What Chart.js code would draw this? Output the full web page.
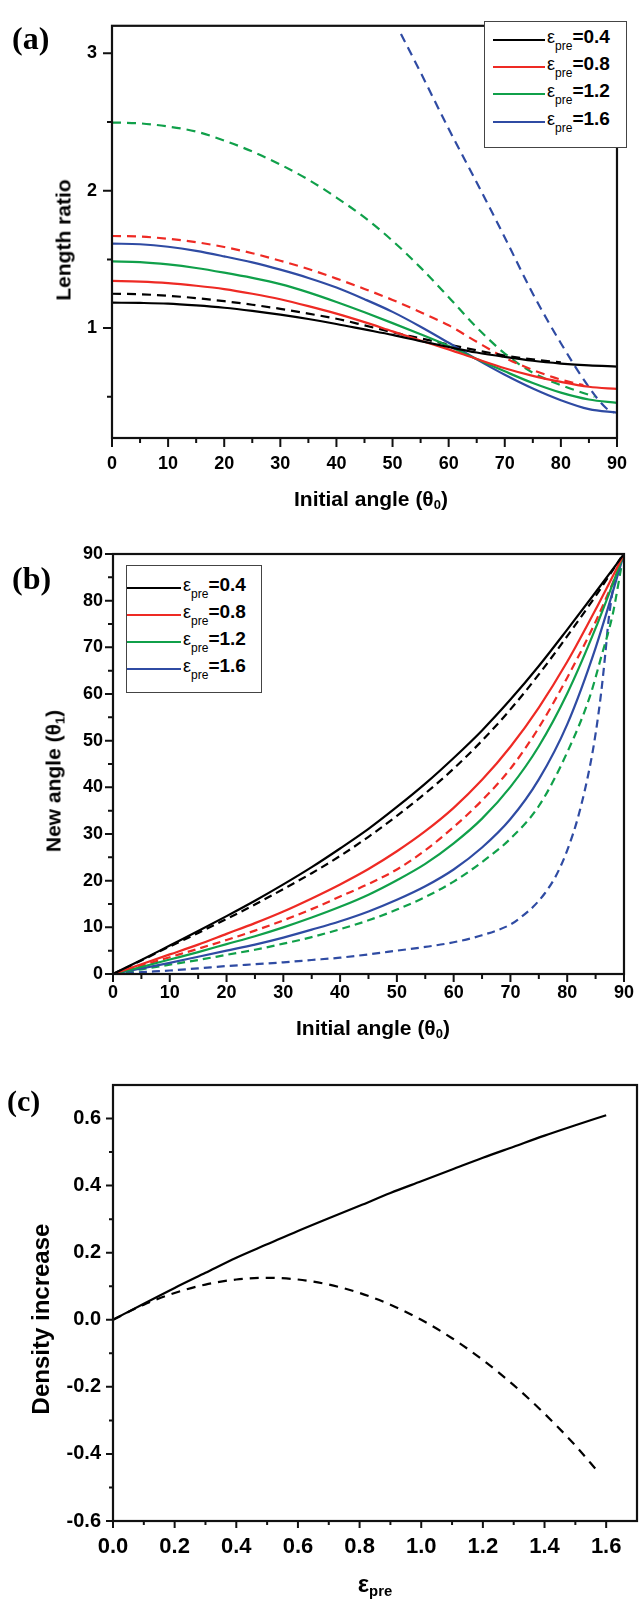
<!DOCTYPE html>
<html>
<head>
<meta charset="utf-8">
<script src="https://cdn.jsdelivr.net/npm/chart.js@4.4.1/dist/chart.umd.min.js"></script>
<style>
  html, body { margin: 0; padding: 0; background: #fff; }
  #wrap { position: relative; width: 642px; height: 1603px; overflow: hidden; font-family: "Liberation Sans", Arial, sans-serif; }
  canvas { position: absolute; left: 0; }
  .t { position: absolute; font-weight: bold; color: #000; white-space: nowrap; line-height: 1; font-size: 21px; }
  .yt { transform: translate(-50%, -50%) rotate(-90deg); }
  .xt { transform: translate(-50%, -50%); }
  .pl { position: absolute; font-family: "Liberation Serif", "Times New Roman", serif; font-weight: bold; font-size: 32px; line-height: 1; }
  .lg { position: absolute; border: 1.5px solid #444; background: #fff; box-sizing: border-box; }
  .ln { position: absolute; height: 2px; }
  .lt { position: absolute; white-space: nowrap; line-height: 20px; height: 20px; }
  .lt .e { font-size: 18px; }
  .lt .s { font-size: 12px; position: relative; top: 7px; }
  .lt .v { font-size: 19px; font-weight: bold; }
  sub { font-size: 62%; vertical-align: -0.3em; line-height: 0; }
</style>
</head>
<body>
<div id="wrap">
  <canvas id="cA" width="642" height="480" style="top:0"></canvas>
  <canvas id="cB" width="642" height="540" style="top:500px"></canvas>
  <canvas id="cC" width="642" height="553" style="top:1050px"></canvas>

  <div class="pl" style="left:12px;top:22px">(a)</div>
  <div class="pl" style="left:12px;top:562px">(b)</div>
  <div class="pl" style="left:7px;top:1086px;font-size:30px">(c)</div>

  <div class="t yt" style="left:63px;top:240px">Length ratio</div>
  <div class="t xt" style="left:371px;top:498px">Initial angle (θ<sub>0</sub>)</div>
  <div class="t yt" style="left:53px;top:781px">New angle (θ<sub>1</sub>)</div>
  <div class="t xt" style="left:373px;top:1027px">Initial angle (θ<sub>0</sub>)</div>
  <div class="t yt" style="left:41px;top:1319px;font-size:24px">Density increase</div>
  <div class="t xt" style="left:375px;top:1584px;font-size:24px">ε<sub>pre</sub></div>

  <div class="lg" id="lgA" style="left:484px;top:21px;width:143px;height:127px"></div>
  <div class="lg" id="lgB" style="left:126px;top:565px;width:136px;height:128px"></div>
</div>
<script>
// ─── DATA ─────────────────────────────────────────────────────────────────────
const EPS = ['0.4', '0.8', '1.2', '1.6'];
const COLORS = ['#000000', '#ee2a24', '#10a04a', '#2f4ba3'];

// (a) length ratio vs initial angle
const A_X = [0,5,10,15,20,25,30,35,40,45,50,55,60,65,70,75,80,85,90];
const A_SOLID_04 = [1.185,1.183,1.178,1.165,1.148,1.125,1.098,1.066,1.03,0.99,0.95,0.905,0.862,0.822,0.79,0.762,0.742,0.728,0.72];
const A_SOLID_08 = [1.343,1.338,1.327,1.308,1.284,1.25,1.21,1.16,1.105,1.043,0.976,0.91,0.845,0.775,0.708,0.652,0.608,0.573,0.557];
const A_SOLID_12 = [1.485,1.48,1.463,1.437,1.403,1.365,1.32,1.26,1.19,1.115,1.036,0.955,0.87,0.775,0.685,0.6,0.53,0.48,0.456];
const A_SOLID_16 = [1.615,1.61,1.592,1.562,1.522,1.478,1.425,1.365,1.295,1.21,1.118,1.01,0.893,0.772,0.66,0.56,0.475,0.41,0.385];
const A_DX_04 = [0,5,10,15,20,25,30,35,40,45,50,55,60,65,70,75,80];
const A_DASH_04 = [1.25,1.246,1.235,1.218,1.196,1.17,1.14,1.105,1.068,1.02,0.97,0.925,0.88,0.838,0.8,0.772,0.75];
const A_DX_08 = [0,5,10,15,20,25,30,35,40,45,50,55,60,65,70,75,80,84];
const A_DASH_08 = [1.67,1.666,1.65,1.625,1.59,1.545,1.49,1.43,1.36,1.285,1.205,1.115,1.02,0.9,0.785,0.695,0.625,0.585];
const A_DX_12 = [0,5,10,15,20,25,30,35,40,45,50,55,60,65,70,75,80,86];
const A_DASH_12 = [2.496,2.49,2.467,2.43,2.365,2.285,2.19,2.08,1.95,1.805,1.635,1.44,1.225,1.005,0.815,0.675,0.585,0.5];
const A_DX_16 = [51.5,55,60,65,70,75,80,85,88,89.5];
const A_DASH_16 = [3.14,2.86,2.45,2.06,1.66,1.25,0.89,0.57,0.42,0.385];
const A_X_TICKS = [0,10,20,30,40,50,60,70,80,90];
const A_X_MINOR = [5,15,25,35,45,55,65,75,85];
const A_Y_TICKS = [1,2,3];
const A_Y_MINOR = [0.5,1.5,2.5];

// (b) new angle vs initial angle
const B_X = [0,5,10,15,20,25,30,35,40,45,50,55,60,65,70,75,80,85,90];
const B_SOLID_04 = [0,3.0,6.1,9.2,12.4,15.7,19.2,22.9,26.9,31.1,35.8,40.8,46.3,52.2,58.8,66.0,73.8,81.8,90];
const B_SOLID_08 = [0,2.1,4.2,6.3,8.6,10.9,13.4,16.2,19.2,22.5,26.3,30.6,35.6,41.6,48.7,57.1,66.9,78.1,90];
const B_SOLID_12 = [0,1.5,3.1,4.7,6.4,8.1,10.0,12.1,14.4,17.0,20.1,23.6,28.0,33.3,40.1,48.8,60.1,74.1,90];
const B_SOLID_16 = [0,1.2,2.4,3.7,5.0,6.3,7.8,9.5,11.3,13.4,15.9,18.8,22.4,27.1,33.2,41.7,53.5,69.9,90];
const B_DX_04 = [0,5,10,15,20,25,30,35,40,45,50,55,60,65,70,75,80,85,89.5];
const B_DASH_04 = [0,2.9,5.9,8.8,11.8,14.9,18.2,21.6,25.3,29.4,33.9,38.7,44.0,50.0,56.7,64.2,72.4,81.0,89.3];
const B_DX_08 = [0,5,10,15,20,25,30,35,40,45,50,55,60,65,70,75,80,85,89.5];
const B_DASH_08 = [0,1.8,3.6,5.4,7.3,9.3,11.5,13.9,16.6,19.3,22.4,26.5,31.5,37.2,44,52.8,63.5,75.5,88];
const B_DX_12 = [0,5,10,15,20,25,30,35,40,45,50,55,60,65,70,75,80,84,86,88,89.5];
const B_DASH_12 = [0,1.0,2.0,3.0,4.1,5.2,6.5,7.9,9.6,11.5,13.8,16.5,19.8,24,29,36,47.5,59.5,68,77,87];
const B_DX_16 = [0,5,10,15,20,25,30,35,40,45,50,55,60,65,70,72,74,76,78,80,82,84,85,86,86.7,87.3,88.3];
const B_DASH_16 = [0,0.4,0.75,1.2,1.7,2.1,2.5,3.0,3.5,4.2,5.0,5.8,6.8,8.3,10.6,12.3,14.4,17.2,21,26.5,34,44.5,51.5,60.5,68.5,76,84.5];
const B_TICKS = [0,10,20,30,40,50,60,70,80,90];
const B_MINOR = [5,15,25,35,45,55,65,75,85];

// (c) density increase vs pre-strain
const C_X = [0,0.1,0.2,0.3,0.4,0.5,0.6,0.7,0.8,0.9,1.0,1.1,1.2,1.3,1.4,1.5,1.6];
const C_SOLID = [0,0.048,0.095,0.14,0.185,0.225,0.265,0.303,0.34,0.378,0.413,0.448,0.483,0.516,0.549,0.58,0.61];
const C_DX = [0,0.1,0.2,0.3,0.4,0.5,0.6,0.7,0.8,0.9,1.0,1.1,1.2,1.3,1.4,1.5,1.575];
const C_DASH = [0,0.045,0.08,0.105,0.12,0.125,0.12,0.105,0.08,0.045,0.0,-0.055,-0.12,-0.195,-0.28,-0.375,-0.455];
const C_X_TICKS = [0,0.2,0.4,0.6,0.8,1.0,1.2,1.4,1.6];
const C_X_MINOR = [0.1,0.3,0.5,0.7,0.9,1.1,1.3,1.5];
const C_Y_TICKS = [-0.6,-0.4,-0.2,0,0.2,0.4,0.6];
const C_Y_MINOR = [-0.5,-0.3,-0.1,0.1,0.3,0.5];

// ─── HELPERS ──────────────────────────────────────────────────────────────────
const FONT = "'Liberation Sans', Arial, sans-serif";
const pts = (xs, ys) => xs.map((x, i) => ({ x, y: ys[i] }));
const line = (xs, ys, color, dash) => ({
  data: pts(xs, ys), borderColor: color, borderWidth: 2.2, borderDash: dash || [],
  pointRadius: 0, fill: false, cubicInterpolationMode: 'monotone'
});

// frame box + outward ticks (major/minor), drawn from the scales
const frameTicks = {
  id: 'frameTicks',
  afterDatasetsDraw(chart, args, o) {
    const { ctx, chartArea: a, scales: { x, y } } = chart;
    ctx.save();
    ctx.strokeStyle = '#111';
    ctx.lineWidth = 2.2;
    ctx.strokeRect(a.left, a.top, a.right - a.left, a.bottom - a.top);
    ctx.beginPath();
    ctx.lineWidth = 2;
    const xt = (vals, len) => vals.forEach(v => { const p = x.getPixelForValue(v); ctx.moveTo(p, a.bottom); ctx.lineTo(p, a.bottom + len); });
    const yt = (vals, len) => vals.forEach(v => { const p = y.getPixelForValue(v); ctx.moveTo(a.left, p); ctx.lineTo(a.left - len, p); });
    xt(o.xMajor, o.major); xt(o.xMinor, o.minor);
    yt(o.yMajor, o.major); yt(o.yMinor, o.minor);
    ctx.stroke();
    ctx.restore();
  }
};

function makeChart(id, cfg) {
  return new Chart(document.getElementById(id), {
    type: 'line',
    data: { datasets: cfg.datasets },
    plugins: [frameTicks],
    options: {
      responsive: false, animation: false, devicePixelRatio: 1,
      layout: { padding: cfg.pad },
      plugins: {
        legend: { display: false }, tooltip: { enabled: false },
        frameTicks: { xMajor: cfg.xTicks, xMinor: cfg.xMinor, yMajor: cfg.yTicks, yMinor: cfg.yMinor, major: cfg.major, minor: cfg.minor }
      },
      scales: {
        x: {
          type: 'linear', min: cfg.xMin, max: cfg.xMax,
          grid: { display: false, drawTicks: false }, border: { display: false },
          afterBuildTicks: s => { s.ticks = cfg.xTicks.map(v => ({ value: v })); },
          afterFit: s => { s.height = cfg.xH; },
          ticks: { color: '#000', font: { family: FONT, weight: 'bold', size: cfg.xFont }, padding: cfg.xPad, maxRotation: 0, autoSkip: false, callback: cfg.xFmt }
        },
        y: {
          type: 'linear', min: cfg.yMin, max: cfg.yMax,
          grid: { display: false, drawTicks: false }, border: { display: false },
          afterBuildTicks: s => { s.ticks = cfg.yTicks.map(v => ({ value: v })); },
          afterFit: s => { s.width = cfg.yW; },
          ticks: { color: '#000', font: { family: FONT, weight: 'bold', size: cfg.yFont }, padding: cfg.yPad, autoSkip: false, callback: cfg.yFmt }
        }
      }
    }
  });
}

const DA = [9, 6], DB = [8, 5], DC = [9, 7];

// (a)
makeChart('cA', {
  datasets: [
    line(A_X, A_SOLID_04, COLORS[0]), line(A_X, A_SOLID_08, COLORS[1]),
    line(A_X, A_SOLID_12, COLORS[2]), line(A_X, A_SOLID_16, COLORS[3]),
    line(A_DX_04, A_DASH_04, COLORS[0], DA), line(A_DX_08, A_DASH_08, COLORS[1], DA),
    line(A_DX_12, A_DASH_12, COLORS[2], DA), line(A_DX_16, A_DASH_16, COLORS[3], DA)
  ],
  pad: { top: 15, right: 11, left: 0, bottom: 0 }, xH: 42, yW: 112,
  xMin: 0, xMax: 90, yMin: 0.2, yMax: 3.2,
  xTicks: A_X_TICKS, xMinor: A_X_MINOR, yTicks: A_Y_TICKS, yMinor: A_Y_MINOR, major: 9, minor: 5,
  xFont: 18, yFont: 18, xPad: 15, yPad: 15,
  xFmt: v => String(v), yFmt: v => String(v)
});

// (b)
makeChart('cB', {
  datasets: [
    line(B_X, B_SOLID_04, COLORS[0]), line(B_X, B_SOLID_08, COLORS[1]),
    line(B_X, B_SOLID_12, COLORS[2]), line(B_X, B_SOLID_16, COLORS[3]),
    line(B_DX_04, B_DASH_04, COLORS[0], DB), line(B_DX_08, B_DASH_08, COLORS[1], DB),
    line(B_DX_12, B_DASH_12, COLORS[2], DB), line(B_DX_16, B_DASH_16, COLORS[3], DB)
  ],
  pad: { top: 54, right: 8, left: 0, bottom: 0 }, xH: 66, yW: 113,
  xMin: 0, xMax: 90, yMin: 0, yMax: 90,
  xTicks: B_TICKS, xMinor: B_MINOR, yTicks: B_TICKS, yMinor: B_MINOR, major: 8, minor: 5,
  xFont: 18, yFont: 18, xPad: 8, yPad: 10,
  xFmt: v => String(v), yFmt: v => String(v)
});

// (c)
makeChart('cC', {
  datasets: [line(C_X, C_SOLID, '#000'), line(C_DX, C_DASH, '#000', DC)],
  pad: { top: 35, right: 5, left: 0, bottom: 0 }, xH: 82, yW: 113,
  xMin: 0, xMax: 1.7, yMin: -0.6, yMax: 0.7,
  xTicks: C_X_TICKS, xMinor: C_X_MINOR, yTicks: C_Y_TICKS, yMinor: C_Y_MINOR, major: 7, minor: 4,
  xFont: 22, yFont: 20, xPad: 13, yPad: 12,
  xFmt: v => v.toFixed(1), yFmt: v => v.toFixed(1)
});

// ─── LEGENDS ──────────────────────────────────────────────────────────────────
function legend(id, rows, lineX, lineW, textX) {
  const box = document.getElementById(id);
  EPS.forEach((e, i) => {
    const ln = document.createElement('div');
    ln.className = 'ln';
    ln.style.cssText = `left:${lineX}px;top:${rows[i] - 1}px;width:${lineW}px;background:${COLORS[i]}`;
    box.appendChild(ln);
    const t = document.createElement('div');
    t.className = 'lt';
    t.style.cssText = `left:${textX}px;top:${rows[i] - 13}px`;
    t.innerHTML = `<span class="e">ε</span><span class="s">pre</span><span class="v">=${e}</span>`;
    box.appendChild(t);
  });
}
legend('lgA', [18, 45, 72, 100], 8, 52, 62);
legend('lgB', [22, 49, 76, 103], 0, 54, 56);
</script>
</body>
</html>
